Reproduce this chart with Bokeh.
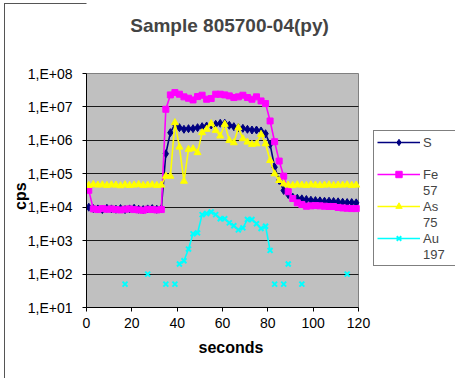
import numpy as np
from bokeh.plotting import figure
from bokeh.models import FixedTicker, CustomJSTickFormatter, Legend, LegendItem, Label
from bokeh.embed import file_html
from bokeh.resources import INLINE

nan = float("nan")

seconds = [1, 3, 5, 7, 9, 11, 13, 15, 17, 19, 21, 23, 25, 27, 29, 31, 33, 35, 37, 39,
           41, 43, 45, 47, 49, 51, 53, 55, 57, 59, 61, 63, 65, 67, 69, 71, 73, 75, 77, 79,
           81, 83, 85, 87, 89, 91, 93, 95, 97, 99, 101, 103, 105, 107, 109, 111, 113, 115, 117, 119]

s_cps = [1.0e4, 9.1e3, 8.9e3, 8.5e3, 9.3e3, 8.9e3, 8.7e3, 9.1e3, 8.5e3, 8.9e3,
         9.3e3, 8.7e3, 8.5e3, 8.9e3, 9.1e3, 8.7e3, 8.9e3,
         3.98e5, 1.70e6, 3.02e6, 2.40e6, 2.14e6, 2.24e6, 2.24e6, 2.40e6, 2.57e6, 2.69e6,
         2.88e6, 3.02e6, 3.24e6, 3.24e6, 2.82e6, 2.57e6, 2.40e6, 2.29e6, 2.14e6, 2.04e6,
         2.04e6, 1.91e6, 1.58e6, 7.6e5, 1.58e5, 6.3e4, 3.16e4, 2.4e4, 2.0e4, 1.86e4,
         1.78e4, 1.70e4, 1.62e4, 1.58e4, 1.55e4, 1.51e4, 1.51e4, 1.48e4, 1.45e4, 1.41e4,
         1.38e4, 1.38e4, 1.35e4]

fe_cps = [3.2e4, 8.9e3, 8.5e3, 9.1e3, 8.7e3, 8.9e3, 8.5e3, 8.3e3, 8.7e3, 8.9e3,
          8.5e3, 8.3e3, 8.1e3, 8.7e3, 8.5e3, 8.3e3, 8.5e3,
          8.5e6, 2.29e7, 2.69e7, 2.40e7, 2.0e7, 1.82e7, 1.62e7, 2.04e7, 2.24e7, 1.70e7,
          1.78e7, 2.40e7, 2.40e7, 2.29e7, 2.14e7, 1.91e7, 2.0e7, 2.24e7, 1.91e7, 1.70e7,
          2.0e7, 1.51e7, 1.26e7, 3.8e6, 9.1e5, 2.4e5, 8.5e4, 2.9e4, 1.82e4, 1.35e4,
          1.20e4, 1.07e4, 1.10e4, 1.12e4, 1.10e4, 1.07e4, 1.05e4, 1.05e4, 9.8e3, 9.5e3,
          9.3e3, 9.1e3, 9.1e3]

as_cps = [4.5e4, 4.8e4, 4.6e4, 4.7e4, 4.5e4, 4.7e4, 4.6e4, 4.4e4, 4.7e4, 4.5e4,
          4.6e4, 4.8e4, 4.5e4, 4.6e4, 4.7e4, 4.5e4, 4.6e4,
          8.5e4, 8.5e4, 3.39e6, 6.3e5, 6.0e4, 5.4e5, 5.6e5, 4.3e5, 1.70e6, 2.14e6,
          3.16e6, 2.0e6, 1.35e6, 3.02e6, 1.0e6, 8.5e5, 2.4e6, 1.12e6, 8.9e5, 7.6e5,
          7.9e5, 1.51e6, 7.9e5, 2.5e5, 1.0e5, 6.3e4, 5.0e4,
          4.6e4, 4.5e4, 4.7e4, 4.6e4, 4.5e4, 4.7e4, 4.6e4, 4.5e4, 4.6e4, 4.7e4,
          4.5e4, 4.6e4, 4.6e4, 4.7e4, 4.5e4, 4.6e4]

au_cps = [nan, nan, nan, nan, nan, nan, nan, nan, 50, nan, nan, nan, nan, 100, nan, nan, nan,
          50, nan, 50, 200, 250, 560, 1600, 1700, 6000, 6500, 7200, 6000, 4500, 4500,
          3400, 2800, 2100, 2400, 4300, 4300, 3200, 2300, 2700, 510, 50,
          nan, 50, 200, nan, nan, 50, nan, nan, nan, nan, nan, nan, nan, nan, nan,
          100, nan, nan]
# Au points joined by a line in the original (the continuous signal window)
au_joined = (41, 81)

series_names = ["S", "Fe", "As", "Au"]
series_sub = ["", "57", "75", "197"]
x_ticks = [0, 20, 40, 60, 80, 100, 120]
y_ticks = [1e1, 1e2, 1e3, 1e4, 1e5, 1e6, 1e7, 1e8]
x_lim = (0, 120)
y_lim = (1e1, 1e8)

FONT = "Liberation Sans"
NBSP = "\u00a0"

# pixel layout: plot area (gray) spans x 86..358, y 73..307 of the 455x378 canvas;
# the drawing frame spans x 86..455, y 0..307 so that title and legend fit inside it.
L, R, T, B = 86, 358, 73, 307
W, H = 455, 378
PX_PER_X = (R - L) / (x_lim[1] - x_lim[0])
PX_PER_DEC = (B - T) / 7.0


def dx(px):
    return x_lim[0] + (px - L) / PX_PER_X


def dy(py):
    return 10 ** (8 - (py - T) / PX_PER_DEC)


p = figure(width=W, height=H, y_axis_type="log",
           x_range=(dx(L), dx(W)), y_range=(dy(B), dy(0)),
           output_backend="svg", toolbar_location=None,
           min_border_left=L, min_border_right=0, min_border_top=0, min_border_bottom=H - B,
           background_fill_color="white", border_fill_alpha=0)
# outer chart border (left and top edges visible in the crop)
p.styles = {"box-shadow": "inset 4px 3px 0 0 #ffffff, inset 5px 4px 0 0 #555555"}
p.outline_line_color = None

# gray plot area
p.quad(left=[x_lim[0]], right=[x_lim[1]], bottom=[y_lim[0]], top=[y_lim[1]],
       fill_color="#C0C0C0", line_color="#808080", line_width=1, level="image")

p.xaxis.ticker = FixedTicker(ticks=x_ticks)
p.yaxis.ticker = FixedTicker(ticks=y_ticks)
p.xaxis.bounds = x_lim
p.yaxis.bounds = y_lim
p.yaxis.formatter = CustomJSTickFormatter(code="""
const e = Math.round(Math.log10(tick));
const s = e >= 0 ? "+" : "-";
const a = Math.abs(e);
return "1,E" + s + (a < 10 ? "0" + a : "" + a);
""")
for ax in (p.xaxis, p.yaxis):
    ax.axis_line_color = "black"
    ax.major_tick_line_color = "black"
    ax.major_tick_out = 4
    ax.major_tick_in = 0
    ax.minor_tick_line_color = None
    ax.major_label_text_font = FONT
    ax.major_label_text_font_size = "14px"
    ax.major_label_text_color = "black"
    ax.axis_label_text_font = FONT
    ax.axis_label_text_font_size = "16px"
    ax.axis_label_text_font_style = "bold"
    ax.axis_label_text_color = "black"
p.xaxis.major_label_standoff = 6
p.yaxis.major_label_standoff = 10
# the frame is wider/taller than the plot area, so pad the titles to centre them on it
p.xaxis.axis_label = "seconds" + NBSP * 18
p.yaxis.axis_label = "cps" + NBSP * 19
p.xaxis.axis_label_standoff = 8
p.yaxis.axis_label_standoff = -4

p.xgrid.grid_line_color = None
grid_ticks = y_ticks[1:-1]
try:
    p.ygrid.cross_bounds = x_lim
    p.ygrid.ticker = FixedTicker(ticks=grid_ticks)
    p.ygrid.grid_line_color = "#1a1a1a"
    p.ygrid.grid_line_width = 1
except AttributeError:
    p.ygrid.grid_line_color = None
    p.segment(x0=x_lim[0], x1=x_lim[1], y0=grid_ticks, y1=grid_ticks,
              line_color="#1a1a1a", line_width=1, level="underlay")

colors = ["#000080", "#FF00FF", "#FFFF00", "#00FFFF"]
markers = ["diamond", "square", "triangle", "x"]
sizes = [8, 6, 7, 7]
data = [s_cps, fe_cps, as_cps, au_cps]

# invisible renderer used for the legend's continuation lines
blank = p.line([], [], line_alpha=0)

t = np.array(seconds, dtype=float)
items = []
for name, sub, col, mk, sz, ys in zip(series_names, series_sub, colors, markers, sizes, data):
    yv = np.array(ys, dtype=float)
    if mk == "x":
        yl = np.where((t >= au_joined[0]) & (t <= au_joined[1]), yv, np.nan)
        ln = p.line(t, yl, line_color=col, line_width=1.6)
        sc = p.scatter(t, yv, marker=mk, size=sz, line_color=col, line_width=2)
    else:
        ln = p.line(t, yv, line_color=col, line_width=1.6)
        sc = p.scatter(t, yv, marker=mk, size=sz, fill_color=col, line_color=col)
    items.append(LegendItem(label=name, renderers=[ln, sc]))
    items.append(LegendItem(label=sub if sub else " ", renderers=[blank]))

legend = Legend(items=items, location=(373 - L, B - 266), padding=3, margin=0, spacing=0,
                glyph_width=43, glyph_height=16, label_height=16, label_width=40,
                label_standoff=3, border_line_color="black", border_line_width=1,
                background_fill_color="white", background_fill_alpha=1,
                label_text_font=FONT, label_text_font_size="13px")
p.add_layout(legend)

p.add_layout(Label(x=dx(229), y=dy(25), text="Sample 805700-04(py)", text_font=FONT,
                   text_font_size="19px", text_font_style="bold",
                   text_align="center", text_baseline="middle"))

open("out.html", "w").write(file_html(p, INLINE))
